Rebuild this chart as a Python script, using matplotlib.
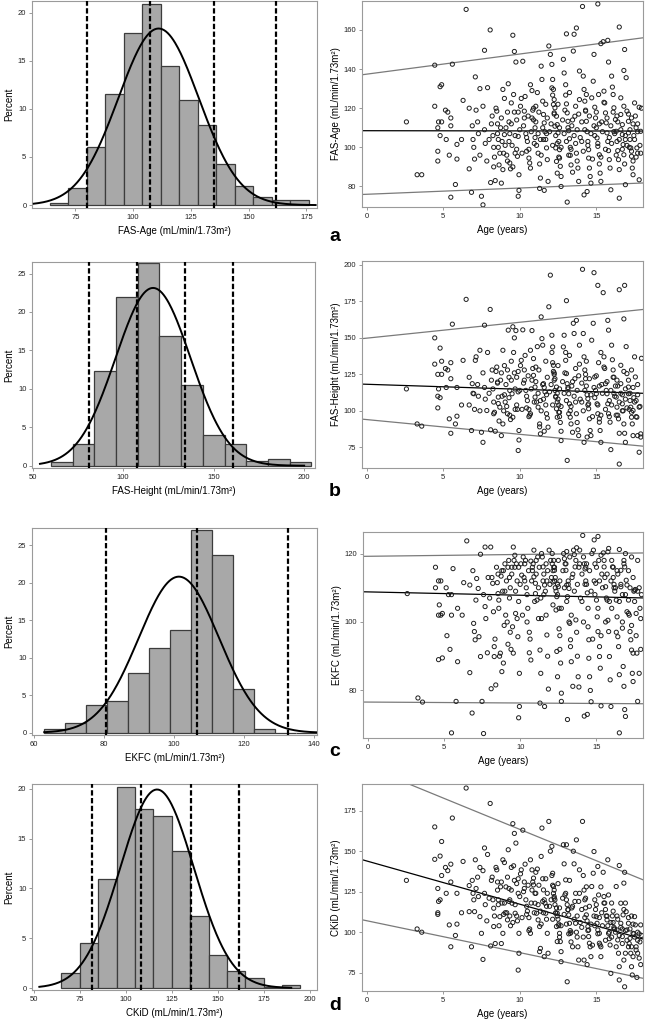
import numpy as np
import matplotlib
matplotlib.use('Agg')
import matplotlib.pyplot as plt

plt.rcParams['font.family'] = ['Liberation Sans', 'DejaVu Sans']

# ---- histograms (percent per bin) ----
fas_age_start, fas_age_width = 64, 8
fas_age_pct = [0.2, 1.8, 6.0, 11.5, 17.9, 20.9, 14.4, 10.9, 8.3, 4.3, 2.0, 0.8, 0.5, 0.5]
fas_height_start, fas_height_width = 60, 12
fas_height_pct = [0.5, 2.8, 12.3, 21.9, 26.4, 16.9, 10.5, 4.0, 2.8, 0.6, 0.9, 0.5]
ekfc_start, ekfc_width = 63, 6
ekfc_pct = [0.5, 1.3, 3.7, 4.3, 8.0, 11.3, 13.7, 27.0, 23.7, 5.8, 0.5, 0.0, 0.0]
ckid_start, ckid_width = 65, 10
ckid_pct = [1.5, 4.5, 11.0, 20.2, 18.0, 17.3, 13.8, 7.2, 3.3, 1.7, 1.0, 0.15, 0.35]

# normal fit (mean, sd) and dashed reference lines
norm_fit = {'a': (111, 17.4), 'b': (116.5, 20.7), 'c': (101.5, 11.5), 'd': (117, 20.0)}
ref_lines = {'a': [79.8, 107.5, 135.0, 162.0],
             'b': [81.1, 107.7, 134.4, 160.5],
             'c': [80.7, 106.8, 132.6],
             'd': [81.5, 108.4, 135.6, 161.8]}

# ---- scatter: age (years) and eGFR per equation, same children ----
age = [
    2.6, 3.3, 3.6, 4.45, 4.45, 4.65, 4.7, 4.65, 4.65, 4.8,
    4.9, 4.9, 4.8, 5.15, 5.3, 5.2, 5.4, 5.5, 5.6, 5.5,
    5.5, 5.8, 5.9, 5.9, 6.2, 6.3, 6.5, 6.7, 6.7, 6.85,
    6.9, 6.95, 7.0, 7.05, 7.1, 7.15, 7.25, 7.3, 7.4, 7.4,
    7.5, 7.6, 7.6, 7.7, 7.7, 7.75, 7.9, 7.85, 8.07, 8.1,
    8.2, 8.25, 8.3, 8.3, 8.4, 8.5, 8.55, 8.6, 8.7, 8.75,
    8.8, 8.9, 8.9, 9.0, 9.05, 9.2, 9.25, 9.3, 9.35, 9.45,
    9.5, 9.55, 9.55, 9.65, 9.7, 9.75, 9.8, 9.85, 9.9, 9.95,
    9.9, 9.95, 10.1, 10.2, 10.3, 10.3, 10.4, 10.5, 10.6, 10.6,
    10.7, 10.7, 10.8, 10.9, 10.9, 11.0, 11.0, 11.1, 11.2, 11.3,
    11.35, 11.4, 11.45, 11.5, 11.55, 11.6, 11.65, 11.7, 11.75, 11.8,
    11.85, 11.6, 11.3, 11.9, 12.0, 12.1, 12.15, 12.2, 12.25, 12.3,
    12.35, 12.4, 12.45, 12.1, 12.15, 12.2, 12.25, 12.3, 12.4, 12.45,
    12.5, 12.55, 12.6, 12.6, 12.65, 12.7, 12.7, 12.85, 12.9, 13.0,
    13.0, 13.05, 13.1, 13.15, 13.2, 13.25, 13.3, 13.3, 13.35, 13.45,
    13.5, 13.55, 13.6, 13.65, 13.7, 13.75, 13.8, 13.85, 13.9, 13.9,
    13.1, 13.7, 13.05, 14.1, 14.15, 14.2, 14.25, 14.3, 14.35, 14.4,
    14.45, 14.5, 14.5, 14.55, 14.6, 14.65, 14.2, 14.4, 14.7, 14.8,
    14.85, 14.9, 14.95, 15.0, 15.05, 15.1, 15.2, 15.2, 15.25, 15.3,
    15.1, 15.45, 15.5, 15.55, 15.6, 15.65, 15.7, 15.75, 15.8, 15.85,
    15.9, 15.95, 15.8, 15.75, 15.3, 16.0, 16.05, 16.1, 16.15, 16.25,
    16.3, 16.35, 16.4, 16.45, 16.5, 16.5, 16.5, 16.6, 16.6, 16.7,
    16.7, 16.75, 16.8, 16.85, 16.9, 16.85, 16.8, 16.95, 17.0, 17.1,
    17.1, 17.2, 17.25, 17.3, 17.35, 17.4, 17.4, 17.5, 17.55, 17.6,
    17.65, 17.7, 17.8, 17.8, 17.9, 17.95, 17.9, 17.7, 17.3, 16.9,
    8.0, 8.15, 8.35, 8.45, 8.6, 8.65, 8.8, 8.85, 8.95, 9.0,
    9.1, 9.15, 9.2, 9.3, 9.4, 9.45, 9.6, 9.7, 9.8, 9.9,
    10.0, 10.05, 10.15, 10.25, 10.35, 10.45, 10.55, 10.65, 10.75, 10.85,
    10.95, 11.05, 11.15, 11.2, 11.25, 11.4, 11.5, 11.55, 11.7, 11.8,
    11.95, 12.05, 12.15, 12.25, 12.35, 12.5, 12.6, 12.7, 12.8, 12.9,
    12.95, 13.05, 13.15, 13.25, 13.35, 13.45, 13.55, 13.65, 13.75, 13.85,
    13.95, 14.05, 14.15, 14.25, 14.35, 14.45, 14.55, 14.65, 14.75, 14.85,
    14.9, 15.0, 15.1, 15.2, 15.3, 15.4, 15.5, 15.6, 15.7, 15.85,
    15.95, 16.0, 16.1, 16.2, 16.3, 16.4, 16.5, 16.6, 16.7, 16.8,
    16.9, 17.0, 17.1, 17.2, 17.3, 17.4, 17.5, 17.6, 17.7, 17.85,
    9.35, 10.45, 11.05, 11.35, 12.55, 13.4, 14.05, 15.15, 16.15, 17.15,
    8.55, 9.65, 10.8, 11.75, 12.45, 13.2, 14.3, 15.35, 16.35, 17.45,
]
fas_age = [
    113, 86, 86, 142, 121, 110, 113, 98, 93, 131,
    132, 113, 106, 119, 118, 104, 96, 74.5, 142.5, 115,
    111, 81, 94, 101.5, 104, 124, 170.5, 89, 120, 77,
    111, 104, 100, 94, 136, 119, 113, 107, 130, 96,
    75, 70.6, 121, 149.6, 109, 102, 130.5, 93, 160, 82,
    116, 106, 100, 90, 83, 118.5, 107, 104, 97, 110,
    81.7, 129.6, 88.6, 106.5, 101, 93, 132.5, 113, 107, 122.7,
    101, 90, 157.3, 149, 97, 143.6, 114, 95.4, 105.6, 86,
    75, 78, 125, 144, 118.5, 115, 107, 103, 99, 94.5,
    89.4, 132, 129, 120, 114, 110, 105, 101, 97, 91.5,
    84.3, 141.5, 134.7, 123.6, 116.8, 112.5, 108, 104, 99.7, 93.7,
    82.6, 78, 79, 151.8, 147.5, 130.4, 126.7, 121.9, 117.6, 110.8,
    99.7, 92.8, 86.8, 142.4, 134.7, 129.6, 124.4, 120.2, 115.9, 111.6,
    107.4, 103, 98.8, 94.5, 90.3, 85.1, 80, 145, 138, 132,
    126.7, 122.2, 117.6, 113.3, 108.5, 104.4, 100, 95.9, 91, 87.3,
    149.2, 157.8, 115.9, 102, 97, 93, 89.4, 82.6, 124.4, 139,
    72, 161, 158, 172, 136.4, 129.6, 123.6, 118.5, 113.3, 108,
    103, 98.8, 94.5, 89.4, 85.1, 81.7, 75.7, 77.4, 125.3, 133.8,
    147.5, 120.5, 115, 110, 104.8, 100.5, 96.2, 91.5, 86.8, 82.6,
    173.3, 154, 128.7, 122.7, 117.6, 112.5, 107.4, 103, 98.3, 93.7,
    89.4, 78.3, 143.6, 154.7, 153, 136.4, 130.8, 127, 120.2, 114.2,
    108.2, 103, 98.3, 93.7, 88.6, 74, 161.5, 125.3, 116.8, 111.6,
    106.5, 101.4, 96.2, 91.5, 80.9, 150, 139.3, 135.6, 118.5, 113.3,
    107.4, 104, 99.7, 95.4, 89.4, 86, 93, 122.7, 116, 110,
    99.7, 97, 83.4, 120.5, 108.2, 120, 97, 112, 115, 104,
    104, 112, 95, 120, 100, 91, 115, 103, 97, 125,
    110, 96, 118, 103, 89, 112, 127, 106, 99, 118,
    109, 121, 97, 111, 126, 105, 116, 92, 108, 119,
    102, 113, 128, 107, 118, 96, 110, 104, 122, 115,
    108, 112, 101, 117, 106, 122, 110, 100, 114, 107,
    119, 103, 110, 128, 99, 114, 106, 121, 109, 117,
    105, 113, 98, 109, 127, 101, 116, 107, 94, 111,
    106, 118, 102, 112, 95, 108, 123, 99, 115, 105,
    111, 102, 118, 107, 96, 113, 104, 109, 99, 121,
    106, 101, 117, 109, 98, 112, 104, 95, 108, 101,
    92, 98, 121, 104, 95, 111, 103, 127, 108, 100,
    112, 118, 115, 107, 102, 96, 119, 113, 116, 106,
]
fas_height = [
    115, 91, 89.5, 150, 132, 125, 115, 110, 102, 143,
    134, 125, 109, 129, 128, 116, 94.5, 84.6, 159.4, 133,
    122, 91, 96.3, 116, 104, 134.6, 176.4, 104, 123, 86.5,
    118.6, 112, 111.7, 101, 134.6, 137, 118, 110, 141.5, 100,
    85.3, 78.4, 126, 158.7, 116, 108, 140, 100.2, 169.5, 87,
    128, 115, 106, 98, 86, 130, 119.7, 109.4, 102.5, 121,
    83, 141.5, 91, 111, 106, 98, 155.3, 123, 114, 134,
    111.7, 95.6, 157.6, 150, 101, 155, 123, 101, 113, 86.5,
    72.8, 80, 134.6, 155.5, 128, 121, 114, 107, 101, 96,
    98, 141.5, 155, 135.8, 124.3, 116.3, 109.4, 106, 102.5, 91,
    84.2, 164.4, 149.5, 145, 118.6, 116, 113, 104, 98, 95,
    88.8, 86, 89, 171.3, 193, 140, 133, 127, 121, 114,
    109.4, 101.4, 95.6, 151.8, 143.8, 131.2, 126, 122, 116.3, 112,
    108, 104, 99, 96, 92, 86, 79.6, 143.8, 151.8, 140,
    134.6, 125.5, 118.6, 115, 111.7, 104.8, 100, 95.6, 91, 85.3,
    160, 153, 122, 106, 98, 92, 87, 83, 132, 145,
    66, 162, 175.5, 197, 153, 137, 128, 122, 117, 111,
    108.3, 104.8, 101.4, 94.5, 86.5, 83, 78.4, 82, 148.4, 160,
    194.7, 123.2, 114, 111.7, 104.8, 98, 94.5, 92.2, 86.5, 78.4,
    186, 181, 137, 129, 118.6, 114, 111.7, 104.8, 98, 96,
    92.2, 73.4, 155.3, 162, 140, 145, 135, 128, 123, 117,
    109.4, 102.5, 97, 94.5, 84.6, 63.5, 183, 131.2, 118.6, 111,
    104.8, 100, 91, 84.6, 78.4, 186, 163, 144, 125.5, 116.3,
    111.7, 107, 102.5, 95.6, 91, 83, 100.2, 137, 123.2, 107,
    95.6, 83, 71.6, 102.5, 84.2, 136, 82, 118, 128, 115,
    112, 121, 99, 127, 105, 93, 126, 110, 100, 131,
    118, 103, 128, 109, 94, 121, 140, 115, 104, 127,
    114, 131, 101, 119, 138, 110, 124, 97, 115, 129,
    106, 120, 144, 112, 128, 100, 118, 108, 134, 123,
    113, 118, 104, 125, 110, 131, 115, 103, 120, 112,
    126, 107, 116, 138, 103, 120, 110, 129, 114, 124,
    108, 119, 100, 114, 134, 104, 122, 111, 96, 116,
    109, 124, 104, 117, 97, 112, 130, 101, 120, 107,
    114, 104, 123, 110, 97, 117, 106, 112, 100, 127,
    108, 102, 121, 112, 99, 116, 106, 96, 111, 103,
    97, 102, 130, 107, 99, 117, 106, 133, 112, 101,
    119, 126, 121, 111, 106, 98, 125, 118, 121, 109,
]
ekfc = [
    108.3, 77.8, 76.6, 116, 110, 112, 105, 102, 89, 112,
    102.5, 89.5, 102, 110, 108, 96, 92, 67.6, 115.6, 108,
    102, 76.8, 88.4, 104, 102, 111.5, 123.7, 85.2, 110.8, 73.4,
    115, 99.6, 97.2, 94.8, 106.4, 112.7, 109.8, 95.7, 119.8, 89.9,
    76.8, 67.4, 108, 121.9, 104.5, 101, 113, 91, 121.9, 80.5,
    111.3, 103, 92.8, 89.9, 81.6, 111.5, 108.3, 106.4, 90.9, 113.4,
    85.5, 115, 88, 109, 102, 93.5, 118, 113, 110, 116,
    98.6, 90.9, 121.9, 119.5, 102.5, 117, 112, 95.7, 106, 85,
    72, 75.3, 113.7, 119, 112, 117, 110, 104, 97, 91,
    88.9, 117.8, 116, 121, 113.2, 111.3, 108.3, 106.4, 101, 91.8,
    85, 120, 119, 116.1, 114, 110.8, 109, 102, 96.2, 90,
    80.4, 75.3, 76.3, 121, 118, 117, 115, 118, 112, 110,
    103.5, 91.4, 84, 120, 111.7, 116, 115.1, 113, 107.4, 111,
    110.3, 104, 96, 92, 88, 79.2, 76.8, 120, 118.5, 115.1,
    117, 110.8, 107.4, 111, 109.8, 99.6, 94.8, 92.8, 88.4, 81.2,
    121, 119.7, 116.1, 100.6, 97, 90, 84, 81, 117, 121,
    71.5, 121.7, 120.6, 125.3, 119, 117, 115.5, 112, 111, 108.5,
    98.6, 94.8, 89.4, 84, 80, 76.7, 72.5, 73, 120, 121,
    124, 117, 111.3, 106.4, 101.5, 97.2, 92.8, 89.9, 86.5, 75.5,
    125, 120.2, 116.1, 113, 110.3, 107, 106.4, 100.5, 97.2, 89.9,
    83.1, 75.3, 121.5, 120.5, 119.5, 118, 116.1, 113, 111, 110,
    106.4, 101.5, 95.7, 92.8, 84.6, 67.6, 121.2, 115.1, 110.3, 108,
    98.2, 87, 81.2, 74.4, 72.4, 116.1, 118, 112.2, 110.8, 106.4,
    102.5, 97.2, 94.8, 91.8, 85, 82.6, 90.9, 109.3, 109.5, 102.5,
    90.9, 76.8, 85, 110, 101, 108, 92, 118, 119, 120,
    107, 113, 95, 116, 104, 90, 115, 109, 99, 117,
    112, 100, 116, 107, 92, 114, 118, 109, 101, 116,
    111, 117, 102, 113, 118, 108, 115, 95, 112, 117,
    106, 114, 119, 110, 116, 101, 112, 108, 117, 115,
    111, 113, 105, 116, 109, 118, 112, 104, 115, 110,
    117, 106, 112, 119, 102, 114, 109, 118, 111, 116,
    107, 114, 100, 111, 117, 104, 115, 109, 95, 112,
    108, 116, 104, 112, 96, 110, 118, 100, 114, 106,
    112, 104, 116, 109, 97, 114, 106, 111, 100, 117,
    108, 103, 115, 110, 99, 113, 106, 96, 109, 104,
    97, 100, 118, 107, 98, 113, 106, 118, 110, 102,
    114, 116, 115, 112, 108, 100, 116, 114, 115, 109,
]
ckid = [
    132, 102, 100, 165, 145, 127, 119, 112, 111, 147,
    156, 135, 120, 140, 138, 124, 104.5, 91, 170.5, 142,
    131, 98, 105, 124, 112, 143.7, 189, 112.7, 128.8, 91,
    132, 124, 120, 112.7, 144.7, 127, 134, 122, 140, 109.6,
    99.3, 83.2, 138, 152, 124, 117, 148, 107, 179.5, 91.5,
    134, 120, 114.8, 103.5, 93, 138.5, 126, 120, 109.6, 128,
    93, 144.7, 99.3, 118, 112, 107.6, 150.9, 127, 120, 140,
    117.9, 106, 167, 161, 111.7, 155, 130, 107, 124, 99.3,
    76.6, 87, 138.5, 163, 131, 127, 120, 113, 109, 101,
    99.3, 144.7, 138.5, 133.4, 129.2, 124, 117.9, 111.7, 107.6, 103.5,
    90, 146.8, 164.3, 133, 126.1, 120, 117.9, 111.7, 108, 99.3,
    87, 84.9, 88, 168.4, 150, 135, 129, 124, 121, 117,
    111.7, 103.5, 94.2, 153, 136.4, 128.2, 122, 120, 115, 111.7,
    108, 105, 99.3, 97, 94.2, 88, 81.8, 154, 142.2, 132.3,
    124, 120, 117, 113.8, 110.7, 105.5, 101, 99.3, 94, 91,
    150, 142.2, 119, 105.5, 100, 97, 91, 82.8, 124, 138.5,
    69.4, 157, 154, 168.4, 135, 126, 120, 115, 110.7, 107,
    103.5, 101.4, 97.3, 93.2, 91, 84.9, 82.8, 80, 128.2, 136.4,
    149.8, 120, 114, 109.6, 105.5, 101.4, 99.3, 93.2, 92.1, 84.9,
    140.6, 137, 122, 118, 114, 110, 107.6, 104, 99.3, 96,
    92.1, 74.6, 123, 144.7, 128, 118, 110, 106, 103, 100,
    128.2, 101.4, 95.2, 87, 78.7, 70.5, 141.2, 117.9, 105.5, 102,
    97.3, 110.7, 82.8, 66.3, 87, 137, 130.3, 112.7, 101.4, 105.5,
    91, 96.2, 87, 78.7, 73.6, 84.9, 99.3, 109.6, 104.5, 91,
    72.1, 87, 84, 99, 104.5, 98, 80, 95, 110, 118,
    121, 132, 110, 140, 117, 104, 131, 118, 111, 143,
    128, 112, 134, 119, 104, 126, 141, 117, 110, 133,
    122, 136, 109, 125, 142, 116, 129, 102, 118, 131,
    112, 124, 139, 117, 129, 105, 119, 112, 133, 124,
    116, 120, 108, 126, 112, 130, 115, 104, 121, 111,
    123, 105, 114, 132, 100, 116, 108, 124, 110, 119,
    106, 114, 97, 109, 128, 101, 116, 105, 92, 110,
    104, 117, 99, 109, 91, 104, 118, 95, 110, 100,
    106, 97, 113, 102, 91, 108, 98, 103, 93, 114,
    101, 95, 109, 102, 91, 105, 97, 89, 100, 94,
    110, 111, 137, 113, 104, 115, 103, 123, 102, 93,
    131, 132, 126, 116, 110, 99, 121, 112, 110, 99,
]

# regression line (intercept, slope) and limits: upper, mean, lower
fits = {'a': [(137.4, 1.03), (108.5, -0.01), (76.0, 0.32)],
        'b': [(149.8, 1.09), (118.2, -0.343), (94.0, -1.01)],
        'c': [(119.2, 0.054), (108.8, -0.098), (76.6, -0.027)],
        'd': [(202.2, -3.87), (144.0, -2.67), (107.1, -1.97)]}

labels = {'a': 'FAS-Age (mL/min/1.73m²)', 'b': 'FAS-Height (mL/min/1.73m²)',
          'c': 'EKFC (mL/min/1.73m²)', 'd': 'CKiD (mL/min/1.73m²)'}

W, H = 646, 1019
fig = plt.figure(figsize=(W / 100, H / 100), dpi=100)


def box(l, t, r, b):
    return [l / W, 1 - b / H, (r - l) / W, (b - t) / H]


def style(ax):
    for s in ax.spines.values():
        s.set_color('#9a9a9a')
        s.set_linewidth(0.8)
    ax.tick_params(direction='out', length=2.5, width=0.6, color='#8a8a8a',
                   labelsize=5.5, labelcolor='#222222', pad=1.5)


def hist_panel(key, rect, start, width, pct, crange, xlim, ylim, xticks, yticks):
    ax = fig.add_axes(box(*rect))
    edges = start + width * np.arange(len(pct))
    ax.bar(edges, pct, width=width, align='edge', color='#a8a8a8',
           edgecolor='#3c3c3c', linewidth=0.9, zorder=2)
    mu, sd = norm_fit[key]
    xs = np.linspace(crange[0], crange[1], 300)
    ys = 100 * width / (sd * np.sqrt(2 * np.pi)) * np.exp(-0.5 * ((xs - mu) / sd) ** 2)
    ax.plot(xs, ys, color='black', lw=1.4, zorder=3)
    for r in ref_lines[key]:
        ax.axvline(r, color='black', lw=1.6, ls=(0, (2.4, 1.1)), zorder=4)
    ax.set_xlim(*xlim)
    ax.set_ylim(*ylim)
    ax.set_xticks(xticks)
    ax.set_yticks(yticks)
    ax.set_xlabel(labels[key], fontsize=7, labelpad=4)
    ax.set_ylabel('Percent', fontsize=7, labelpad=3)
    style(ax)


def scatter_panel(key, rect, vals, ylim, yticks):
    ax = fig.add_axes(box(*rect))
    xlim = (-0.3, 18.05)
    ax.scatter(age, vals, s=9, facecolors='none', edgecolors='#1e1e1e',
               linewidths=0.7, zorder=3)
    xs = np.array(xlim)
    for i, (b0, b1) in enumerate(fits[key]):
        col = 'black' if i == 1 else '#7a7a7a'
        ax.plot(xs, b0 + b1 * xs, color=col, lw=0.9, zorder=2)
    ax.set_xlim(*xlim)
    ax.set_ylim(*ylim)
    ax.set_xticks([0, 5, 10, 15])
    ax.set_yticks(yticks)
    ax.set_xlabel('Age (years)', fontsize=7, labelpad=4)
    ax.set_ylabel(labels[key], fontsize=7, labelpad=2)
    style(ax)


hist_panel('a', (32, 1, 317, 208), fas_age_start, fas_age_width, fas_age_pct,
           (57, 179), (56.2, 179.6), (-0.3, 21.2), [75, 100, 125, 150, 175], [0, 5, 10, 15, 20])
hist_panel('b', (32, 262, 315, 468), fas_height_start, fas_height_width, fas_height_pct,
           (54, 200), (49.6, 206), (-0.3, 26.5), [50, 100, 150, 200], [0, 5, 10, 15, 20, 25])
hist_panel('c', (32, 528, 317, 735), ekfc_start, ekfc_width, ekfc_pct,
           (63, 141), (59.5, 141), (-0.3, 27.3), [60, 80, 100, 120, 140], [0, 5, 10, 15, 20, 25])
hist_panel('d', (32, 784, 317, 990), ckid_start, ckid_width, ckid_pct,
           (53, 190), (49, 204), (-0.2, 20.5), [50, 75, 100, 125, 150, 175, 200], [0, 5, 10, 15, 20])

scatter_panel('a', (362, 1, 643, 207), fas_age, (69.5, 174.8), [80, 100, 120, 140, 160])
scatter_panel('b', (362, 261, 643, 468), fas_height, (60.8, 202.7), [75, 100, 125, 150, 175, 200])
scatter_panel('c', (363, 532, 643, 738), ekfc, (66.1, 126.3), [80, 100, 120])
scatter_panel('d', (362, 784, 643, 991), ckid, (63.7, 191.5), [75, 100, 125, 150, 175])

for letter, y in [('a', 237), ('b', 492), ('c', 751), ('d', 1005)]:
    fig.text(329 / W, 1 - y / H, letter, fontsize=14, fontweight='bold', va='center', ha='left')

fig.savefig('out.png', dpi=100)
